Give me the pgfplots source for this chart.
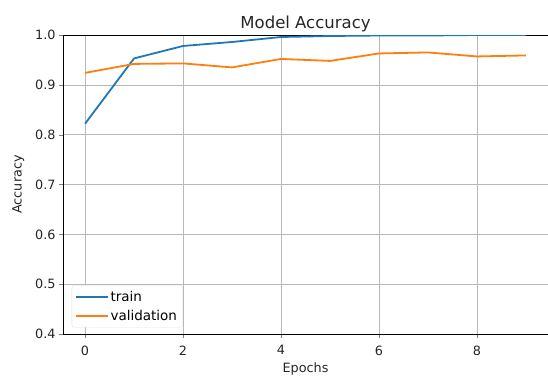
\documentclass[border=0pt]{standalone}
\usepackage{pgfplots}
\pgfplotsset{compat=1.18}
\usepackage{fontspec}
\setmainfont{DejaVu Sans}
\definecolor{tabblue}{HTML}{1F77B4}
\definecolor{taborange}{HTML}{FF7F0E}
\begin{document}
\begin{tikzpicture}
\begin{axis}[
  at={(63pt,42pt)}, anchor=south west,
  scale only axis, width=485pt, height=299pt,
  xmin=-0.45, xmax=9.45, ymin=0.4, ymax=1.0,
  xtick={0,2,4,6,8}, ytick={0.4,0.5,0.6,0.7,0.8,0.9,1.0},
  yticklabel style={/pgf/number format/.cd,fixed,fixed zerofill,precision=1},
  xticklabel style={yshift=-4pt},
  /pgf/number format/assume math mode=true,
  tick label style={font=\fontsize{12.8}{15}\selectfont, color=black!85},
  label style={font=\fontsize{12.8}{15}\selectfont, color=black!85},
  title style={font=\fontsize{16.5}{19}\selectfont, color=black!85, yshift=-6pt},
  title={Model Accuracy},
  xlabel={Epochs}, ylabel={Accuracy},
  xlabel style={yshift=-1pt}, ylabel style={yshift=4pt},
  tick align=outside, major tick length=4pt, tick pos=left,
  grid=major, major grid style={gray!55, line width=0.6pt},
  axis line style={black, line width=1pt},
  legend style={at={(0.018,0.022)}, anchor=south west, draw=gray!25, rounded corners=2pt,
    font=\fontsize{13.5}{16}\selectfont, row sep=3pt, inner sep=3.5pt},
  legend cell align=left,
  legend image code/.code={\draw[#1, line width=1.8pt] (0cm,0cm) -- (1.1cm,0cm);},
]
\addplot[tabblue, line width=1.8pt] coordinates {
(0,0.822) (1,0.953) (2,0.978) (3,0.986) (4,0.996) (5,0.998) (6,0.999) (7,0.999) (8,1.0) (9,1.0)};
\addlegendentry{train}
\addplot[taborange, line width=1.8pt] coordinates {
(0,0.924) (1,0.942) (2,0.943) (3,0.935) (4,0.952) (5,0.948) (6,0.963) (7,0.965) (8,0.957) (9,0.959)};
\addlegendentry{validation}
\end{axis}
\pgfresetboundingbox
\path (0,0) rectangle (548pt,376pt);
\end{tikzpicture}
\end{document}
